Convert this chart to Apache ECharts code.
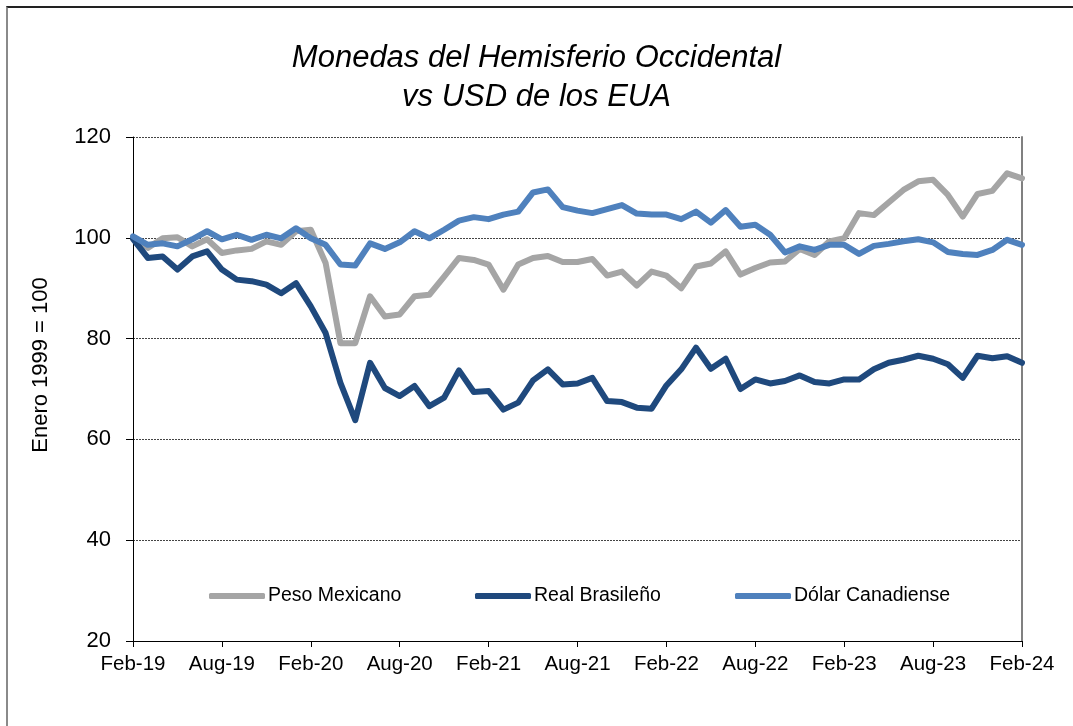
<!DOCTYPE html>
<html>
<head>
<meta charset="utf-8">
<script src="https://cdn.jsdelivr.net/npm/echarts@6/dist/echarts.min.js"></script>
<style>
  html, body { margin: 0; padding: 0; background: #fff; }
  #frame { position: absolute; left: 6px; top: 6px; width: 1200px; height: 1000px;
           border-left: 2px solid #8a8a8a; border-top: 2px solid #222; }
  #chart { position: absolute; left: 0; top: 0; width: 1073px; height: 726px; }
</style>
</head>
<body>
<div id="frame"></div>
<div id="chart"></div>
<script>
const months = [
  'Feb-19','Mar-19','Apr-19','May-19','Jun-19','Jul-19','Aug-19','Sep-19','Oct-19','Nov-19','Dec-19','Jan-20',
  'Feb-20','Mar-20','Apr-20','May-20','Jun-20','Jul-20','Aug-20','Sep-20','Oct-20','Nov-20','Dec-20','Jan-21',
  'Feb-21','Mar-21','Apr-21','May-21','Jun-21','Jul-21','Aug-21','Sep-21','Oct-21','Nov-21','Dec-21','Jan-22',
  'Feb-22','Mar-22','Apr-22','May-22','Jun-22','Jul-22','Aug-22','Sep-22','Oct-22','Nov-22','Dec-22','Jan-23',
  'Feb-23','Mar-23','Apr-23','May-23','Jun-23','Jul-23','Aug-23','Sep-23','Oct-23','Nov-23','Dec-23','Jan-24',
  'Feb-24'
];

const pesoMexicano = [
  100, 98.0, 99.9, 100.1, 98.3, 99.7, 97.0, 97.5, 97.8, 99.3, 98.6, 101.3,
  101.6, 95.0, 79.1, 79.1, 88.4, 84.4, 84.8, 88.4, 88.7, 92.3, 96.0, 95.6,
  94.7, 89.7, 94.7, 96.0, 96.4, 95.2, 95.2, 95.8, 92.5, 93.3, 90.5, 93.3,
  92.5, 90.0, 94.3, 94.9, 97.3, 92.7, 94.0, 95.1, 95.3, 97.8, 96.6, 99.3,
  99.9, 104.9, 104.5, 107.0, 109.5, 111.2, 111.5, 108.5, 104.2, 108.7, 109.3, 112.8,
  111.8
];

const realBrasileno = [
  99.8, 96.0, 96.3, 93.7, 96.3, 97.3, 93.7, 91.7, 91.4, 90.7, 89.0, 91.0,
  86.4, 81.1, 71.2, 63.8, 75.2, 70.2, 68.6, 70.6, 66.6, 68.3, 73.7, 69.4,
  69.6, 65.9, 67.3, 71.7, 73.9, 70.9, 71.1, 72.2, 67.6, 67.4, 66.3, 66.1,
  70.7, 73.9, 78.2, 74.0, 76.0, 70.0, 71.9, 71.1, 71.6, 72.7, 71.4, 71.1,
  71.9, 71.9, 73.9, 75.2, 75.8, 76.6, 76.0, 74.9, 72.2, 76.6, 76.1, 76.5,
  75.2
];

const dolarCanadiense = [
  100.3, 98.6, 98.9, 98.3, 99.7, 101.3, 99.7, 100.6, 99.6, 100.6, 99.9, 101.9,
  99.9, 98.6, 94.7, 94.5, 98.9, 97.8, 99.1, 101.3, 99.9, 101.6, 103.4, 104.1,
  103.7, 104.6, 105.2, 109.0, 109.6, 106.1, 105.4, 104.9, 105.7, 106.5, 104.8, 104.6,
  104.6, 103.7, 105.2, 103.0, 105.5, 102.2, 102.6, 100.6, 97.1, 98.3, 97.6, 98.6,
  98.6, 96.8, 98.4, 98.8, 99.3, 99.7, 99.1, 97.2, 96.8, 96.6, 97.6, 99.6,
  98.6
];

const seriesNames = ['Peso Mexicano', 'Real Brasileño', 'Dólar Canadiense'];
const seriesColors = ['#a5a5a5', '#1f497d', '#4f81bd'];

const FONT = '"Liberation Sans", Arial, sans-serif';

const chart = echarts.init(document.getElementById('chart'), null, { renderer: 'canvas' });

// Excel spaces legend items in fixed slots, so one legend per series
const makeLegend = (name, left) => ({
  data: [name],
  left: left,
  top: 586,
  padding: 0,
  icon: 'roundRect',
  itemWidth: 56,
  itemHeight: 6,
  textStyle: { fontFamily: FONT, fontSize: 19.5, color: '#000', padding: [0, 0, 0, -2] },
  selectedMode: false
});

const option = {
  animation: false,
  title: {
    text: 'Monedas del Hemisferio Occidental\nvs USD de los EUA',
    left: 'center',
    top: 34,
    textStyle: {
      fontFamily: FONT,
      fontSize: 31,
      fontStyle: 'italic',
      fontWeight: 'normal',
      color: '#000',
      lineHeight: 39
    }
  },
  legend: [
    makeLegend(seriesNames[0], 209),
    makeLegend(seriesNames[1], 475),
    makeLegend(seriesNames[2], 735)
  ],
  grid: { left: 133, right: 51, top: 137, bottom: 85 },
  xAxis: {
    type: 'category',
    data: months,
    boundaryGap: false,
    axisLine: { lineStyle: { color: '#000', width: 1 } },
    axisTick: { interval: 5, length: 6, lineStyle: { color: '#000' } },
    axisLabel: { interval: 5, fontFamily: FONT, fontSize: 20.5, color: '#000', margin: 13 },
    splitLine: { show: false }
  },
  yAxis: [
    {
      type: 'value',
      min: 20,
      max: 120,
      interval: 20,
      axisLine: { show: true, lineStyle: { color: '#000', width: 1 } },
      axisTick: { show: true, length: 7, lineStyle: { color: '#000' } },
      axisLabel: { fontFamily: FONT, fontSize: 22, color: '#000', margin: 22 },
      splitLine: { lineStyle: { color: '#444', type: [2, 1], width: 1 } }
    },
    {
      type: 'value',
      position: 'right',
      min: 20,
      max: 120,
      interval: 20,
      axisLine: { show: true, lineStyle: { color: '#808080', width: 2 } },
      axisTick: { show: false },
      axisLabel: { show: false },
      splitLine: { show: false }
    }
  ],
  graphic: [
    {
      type: 'text',
      x: 41,
      y: 365,
      rotation: Math.PI / 2,
      style: {
        text: 'Enero 1999 = 100',
        font: '22px ' + FONT,
        fill: '#000',
        textAlign: 'center',
        textVerticalAlign: 'middle'
      }
    }
  ],
  series: [pesoMexicano, realBrasileno, dolarCanadiense].map((d, i) => ({
    name: seriesNames[i],
    type: 'line',
    data: d,
    symbol: 'none',
    lineStyle: { width: 6, color: seriesColors[i], join: 'round', cap: 'round' },
    itemStyle: { color: seriesColors[i] }
  }))
};

chart.setOption(option);
</script>
</body>
</html>
